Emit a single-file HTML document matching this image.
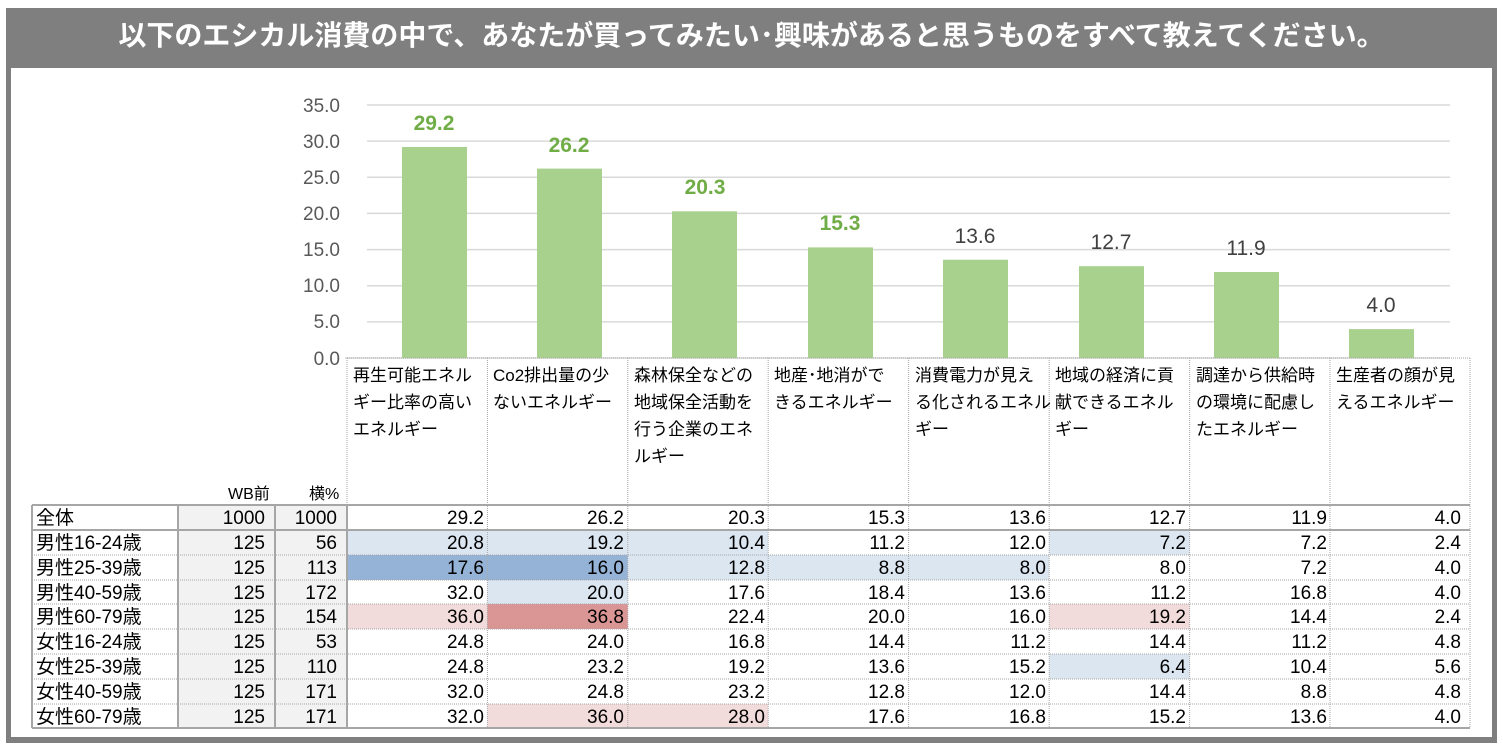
<!DOCTYPE html>
<html><head><meta charset="utf-8"><style>
*{margin:0;padding:0;box-sizing:border-box}
body{width:1503px;height:744px;background:#fff;position:relative;overflow:hidden;font-family:"Liberation Sans","Noto Sans CJK JP",sans-serif;color:#000}
.a{position:absolute}
.t{white-space:nowrap}
</style></head><body>
<div class="a" style="left:6px;top:8px;width:1491px;height:735px;background:#7f7f7f"></div>
<div class="a" style="left:11px;top:68px;width:1481px;height:669px;background:#fff"></div>
<div class="a t" style="left:6px;top:14px;width:1491px;text-align:center;color:#fff;font-size:28px;font-weight:bold">以下のエシカル消費の中で、あなたが買ってみたい･興味があると思うものをすべて教えてください。</div>
<svg class="a" style="left:0;top:0" width="1503" height="744">
<g stroke="#d9d9d9" stroke-width="1.5">
<line x1="367" x2="1450" y1="105" y2="105"/><line x1="367" x2="1450" y1="141.1" y2="141.1"/><line x1="367" x2="1450" y1="177.3" y2="177.3"/><line x1="367" x2="1450" y1="213.4" y2="213.4"/><line x1="367" x2="1450" y1="249.6" y2="249.6"/><line x1="367" x2="1450" y1="285.7" y2="285.7"/><line x1="367" x2="1450" y1="321.9" y2="321.9"/><line x1="345" x2="1450" y1="358" y2="358"/>
</g>
<g fill="#a9d18e">
<rect x="402" y="147.0" width="65" height="211"/>
<rect x="537" y="168.6" width="65" height="189.4"/>
<rect x="672" y="211.3" width="65" height="146.7"/>
<rect x="808" y="247.4" width="65" height="110.6"/>
<rect x="943" y="259.7" width="65" height="98.3"/>
<rect x="1079" y="266.2" width="65" height="91.8"/>
<rect x="1214" y="272" width="65" height="86"/>
<rect x="1349" y="329.1" width="65" height="28.9"/>
</g>
<g font-size="19" fill="#595959" text-anchor="end" font-family="Liberation Sans,sans-serif">
<text x="340" y="112">35.0</text><text x="340" y="148">30.0</text><text x="340" y="184">25.0</text><text x="340" y="220">20.0</text><text x="340" y="256">15.0</text><text x="340" y="292">10.0</text><text x="340" y="328">5.0</text><text x="340" y="365">0.0</text>
</g>
<g font-size="21" text-anchor="middle" font-family="Liberation Sans,sans-serif">
<text x="434" y="130" fill="#70ad47" font-weight="bold">29.2</text>
<text x="569" y="152" fill="#70ad47" font-weight="bold">26.2</text>
<text x="705" y="194" fill="#70ad47" font-weight="bold">20.3</text>
<text x="840" y="230" fill="#70ad47" font-weight="bold">15.3</text>
<text x="975" y="243" fill="#404040">13.6</text>
<text x="1111" y="249" fill="#404040">12.7</text>
<text x="1246" y="255" fill="#404040">11.9</text>
<text x="1381" y="312" fill="#404040">4.0</text>
</g>
<rect x="178" y="505" width="169" height="223" fill="#f2f2f2"/>
<g>
<rect x="347" y="530" width="140.4" height="25" fill="#dce6f1"/><rect x="487.4" y="530" width="140.4" height="25" fill="#dce6f1"/><rect x="627.8" y="530" width="140.4" height="25" fill="#dce6f1"/><rect x="1049.2" y="530" width="140.4" height="25" fill="#dce6f1"/>
<rect x="347" y="555" width="140.4" height="25" fill="#95b3d7"/><rect x="487.4" y="555" width="140.4" height="25" fill="#95b3d7"/><rect x="627.8" y="555" width="140.4" height="25" fill="#dce6f1"/><rect x="768.2" y="555" width="140.4" height="25" fill="#dce6f1"/><rect x="908.6" y="555" width="140.4" height="25" fill="#dce6f1"/>
<rect x="487.4" y="580" width="140.4" height="24" fill="#dce6f1"/>
<rect x="347" y="604" width="140.4" height="25" fill="#f2dcdb"/><rect x="487.4" y="604" width="140.4" height="25" fill="#da9694"/><rect x="1049.2" y="604" width="140.4" height="25" fill="#f2dcdb"/>
<rect x="1049.2" y="654" width="140.4" height="25" fill="#dce6f1"/>
<rect x="487.4" y="704" width="140.4" height="24" fill="#f2dcdb"/><rect x="627.8" y="704" width="140.4" height="24" fill="#f2dcdb"/>
</g>
<g stroke="#a6a6a6" stroke-width="1" stroke-dasharray="1,1">
<line x1="347" y1="358" x2="347" y2="505"/><line x1="487.4" y1="358" x2="487.4" y2="728"/><line x1="627.8" y1="358" x2="627.8" y2="728"/><line x1="768.2" y1="358" x2="768.2" y2="728"/><line x1="908.6" y1="358" x2="908.6" y2="728"/><line x1="1049.2" y1="358" x2="1049.2" y2="728"/><line x1="1189.6" y1="358" x2="1189.6" y2="728"/><line x1="1330" y1="358" x2="1330" y2="728"/><line x1="1470" y1="358" x2="1470" y2="728"/>
<line x1="347" y1="358" x2="1470" y2="358"/>
<line x1="32" y1="580" x2="1470" y2="580"/><line x1="32" y1="604" x2="1470" y2="604"/><line x1="32" y1="629" x2="1470" y2="629"/><line x1="32" y1="654" x2="1470" y2="654"/><line x1="32" y1="679" x2="1470" y2="679"/><line x1="32" y1="704" x2="1470" y2="704"/><line x1="32" y1="555" x2="1470" y2="555"/>
</g>
<g stroke="#a6a6a6" stroke-width="2" fill="none">
<line x1="32" y1="505" x2="1470" y2="505"/><line x1="32" y1="530" x2="1470" y2="530"/><line x1="32" y1="728" x2="1470" y2="728"/>
<line x1="32" y1="505" x2="32" y2="728"/><line x1="178" y1="505" x2="178" y2="728"/><line x1="275" y1="505" x2="275" y2="728"/><line x1="347" y1="505" x2="347" y2="728"/>
</g>
<g font-size="16" fill="#000">
<text x="228" y="499">WB前</text><text x="309" y="499">横%</text>
</g>
<g font-size="17" fill="#000">
<text x="353" y="381">再生可能エネル</text><text x="353" y="408">ギー比率の高い</text><text x="353" y="435">エネルギー</text>
<text x="493" y="381">Co2排出量の少</text><text x="493" y="408">ないエネルギー</text>
<text x="634" y="381">森林保全などの</text><text x="634" y="408">地域保全活動を</text><text x="634" y="435">行う企業のエネ</text><text x="634" y="462">ルギー</text>
<text x="774" y="381">地産･地消がで</text><text x="774" y="408">きるエネルギー</text>
<text x="915" y="381">消費電力が見え</text><text x="915" y="408">る化されるエネル</text><text x="915" y="435">ギー</text>
<text x="1055" y="381">地域の経済に貢</text><text x="1055" y="408">献できるエネル</text><text x="1055" y="435">ギー</text>
<text x="1196" y="381">調達から供給時</text><text x="1196" y="408">の環境に配慮し</text><text x="1196" y="435">たエネルギー</text>
<text x="1336" y="381">生産者の顔が見</text><text x="1336" y="408">えるエネルギー</text>
</g>
<g font-size="19" fill="#000" id="tb"></g>
</svg>
<script>
const rows=[["全体",1000,1000,"29.2","26.2","20.3","15.3","13.6","12.7","11.9","4.0"],
["男性16-24歳",125,56,"20.8","19.2","10.4","11.2","12.0","7.2","7.2","2.4"],
["男性25-39歳",125,113,"17.6","16.0","12.8","8.8","8.0","8.0","7.2","4.0"],
["男性40-59歳",125,172,"32.0","20.0","17.6","18.4","13.6","11.2","16.8","4.0"],
["男性60-79歳",125,154,"36.0","36.8","22.4","20.0","16.0","19.2","14.4","2.4"],
["女性16-24歳",125,53,"24.8","24.0","16.8","14.4","11.2","14.4","11.2","4.8"],
["女性25-39歳",125,110,"24.8","23.2","19.2","13.6","15.2","6.4","10.4","5.6"],
["女性40-59歳",125,171,"32.0","24.8","23.2","12.8","12.0","14.4","8.8","4.8"],
["女性60-79歳",125,171,"32.0","36.0","28.0","17.6","16.8","15.2","13.6","4.0"]];
const ys=[505,530,555,580,604,629,654,679,704];
const rx=[null,265,337,484,624,765,905,1046,1186,1327,1461];
let s="";
rows.forEach((r,i)=>{const y=ys[i]+19;
s+=`<text x="36" y="${y}">${r[0]}</text>`;
for(let j=1;j<r.length;j++)s+=`<text x="${rx[j]}" y="${y}" text-anchor="end">${r[j]}</text>`;});
document.getElementById("tb").innerHTML=s;
</script>
</body></html>
